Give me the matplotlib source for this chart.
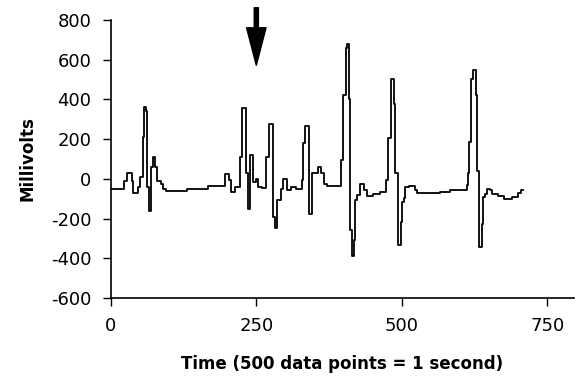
import matplotlib
matplotlib.use("Agg")
import matplotlib.pyplot as plt

plt.rcParams['axes.unicode_minus'] = False
plt.rcParams['font.family'] = ['DejaVu Sans']

# breakpoints of the recorded trace (sample index, millivolts); value holds until next index
sample = [0, 22, 27, 36, 38, 46, 50, 55, 57, 60, 63, 66, 69, 72, 76, 79, 87, 90, 95,
          131, 167, 197, 203, 207, 214, 222, 225, 232, 235, 240, 245, 249, 253, 260,
          266, 272, 278, 282, 285, 292, 296, 302, 309, 318, 329, 331, 334, 340, 346,
          356, 362, 366, 372, 382, 395, 399, 404, 406, 409, 411, 414, 417, 419, 423,
          428, 435, 440, 450, 463, 472, 477, 481, 487, 489, 493, 498, 500, 503, 506,
          512, 522, 526, 566, 583, 612, 614, 616, 619, 622, 627, 629, 632, 637, 640,
          643, 647, 652, 655, 665, 675, 690, 699, 705, 709]
millivolts = [-50, -10, 30, -10, -70, -40, 10, 210, 360, 340, -40, -160, 60, 110, 60, -10, -25, -50, -62,
              -50, -35, 25, -5, -66, -40, 110, 355, 30, -150, 118, -15, -2, -40, -48,
              110, 278, -190, -248, -108, -50, -3, -57, -40, -52, -8, 180, 264, -175, 30,
              60, 27, -25, -35, -37, 97, 424, 660, 678, 404, -259, -390, -309, -108, -83,
              -28, -57, -88, -74, -66, -4, 207, 501, 379, 29, -331, -218, -117, -95, -41,
              -37, -55, -71, -66, -58, -29, 27, 185, 505, 547, 421, 38, -343, -226, -92,
              -74, -49, -55, -74, -85, -100, -90, -70, -58, -55]

x_ticks = [0, 250, 500, 750]
y_ticks = [-600, -400, -200, 0, 200, 400, 600, 800]
arrow_at = 250

fig = plt.figure(figsize=(5.77, 3.85), dpi=100)
ax = fig.add_axes([0.192, 0.226, 0.802, 0.722])
ax.plot(sample, millivolts, drawstyle='steps-post', color='black', lw=1.3)

ax.set_xlim(0, 795)
ax.set_ylim(-600, 800)
ax.set_xticks(x_ticks)
ax.set_yticks(y_ticks)
ax.tick_params(labelsize=13, length=6, width=1, direction='out', pad=8)
for s in ['top', 'right']:
    ax.spines[s].set_visible(False)
for s in ['left', 'bottom']:
    ax.spines[s].set_linewidth(1.2)

ax.set_ylabel('Millivolts', fontsize=12, fontweight='bold', labelpad=10)
ax.set_xlabel('Time (500 data points = 1 second)', fontsize=12, fontweight='bold', labelpad=14)

ax.annotate('', xy=(arrow_at, 572), xytext=(arrow_at, 862),
            arrowprops=dict(facecolor='black', edgecolor='black', width=3, headwidth=14,
                            headlength=27, shrink=0),
            annotation_clip=False)

fig.savefig('out.png', dpi=100)
